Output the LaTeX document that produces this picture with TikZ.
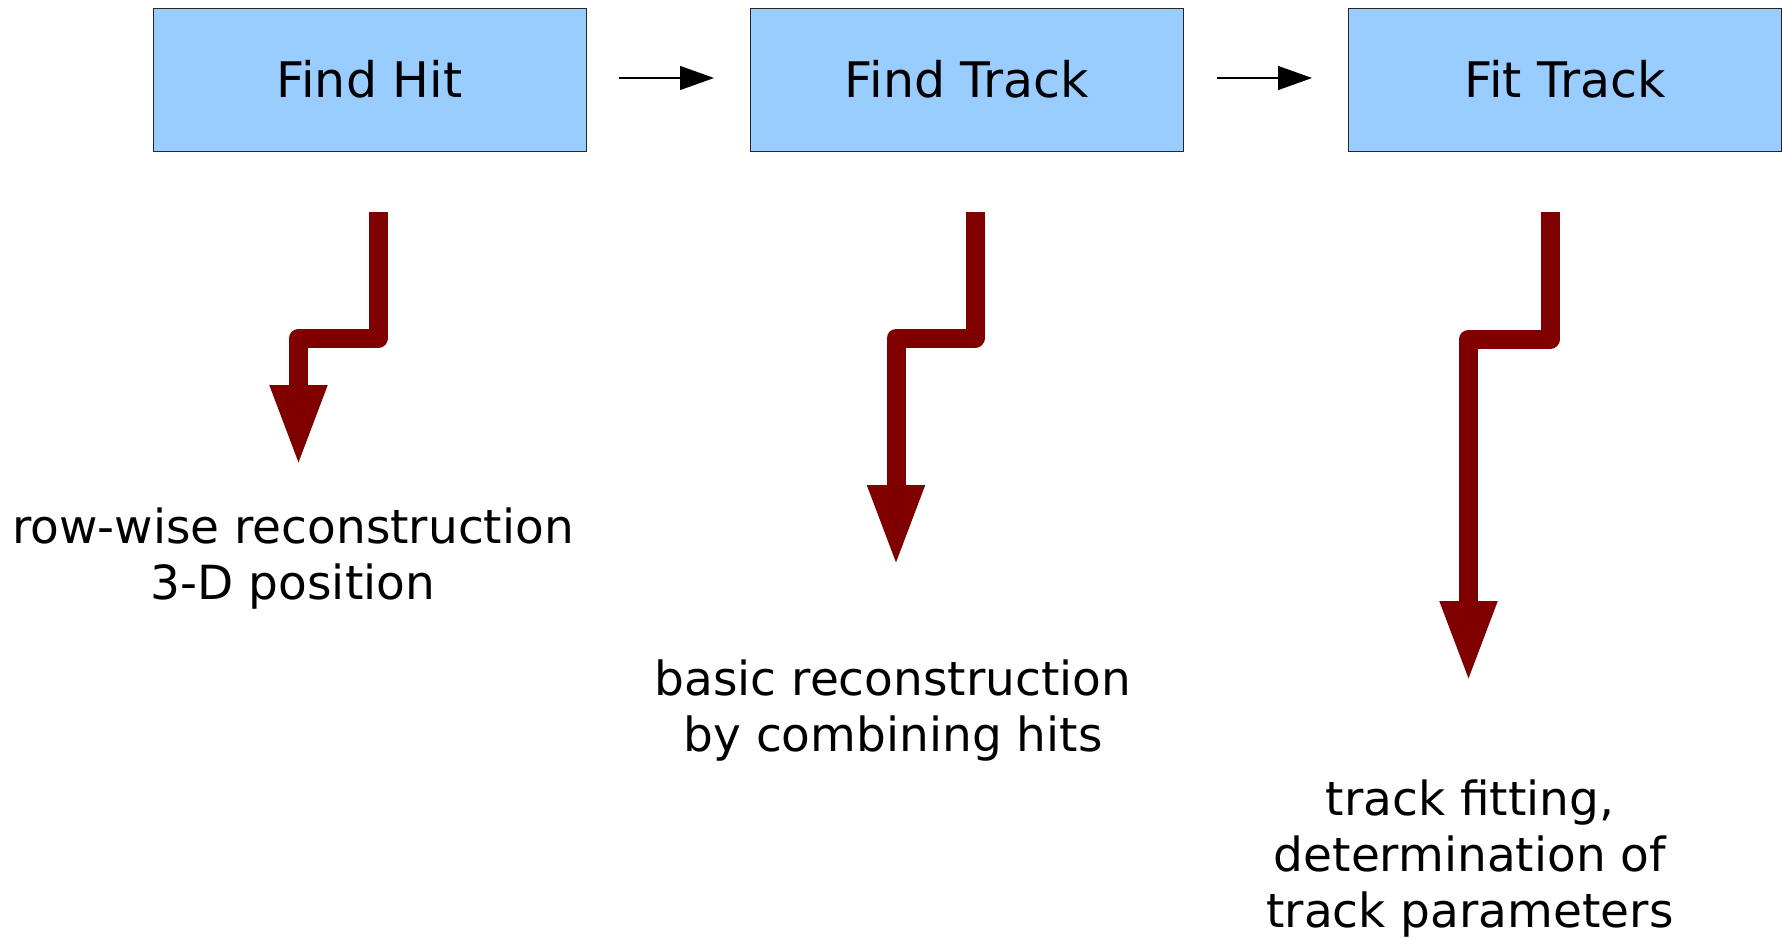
\documentclass[tikz,border=0pt]{standalone}
\usepackage{fontspec}
\setmainfont{DejaVu Sans}
\usetikzlibrary{arrows.meta}
\definecolor{boxblue}{HTML}{99CCFF}
\definecolor{darkred}{HTML}{800000}
\begin{document}
\begin{tikzpicture}[x=0.5pt,y=-0.5pt,
  stage/.style={draw=black!85, line width=0.5pt, fill=boxblue,
    minimum width=216.5pt, minimum height=71.5pt, inner sep=0pt,
    font=\fontsize{24.5}{29}\selectfont},
  lbl/.style={align=center, inner sep=0pt, font=\fontsize{23.5}{28}\selectfont},
  flow/.style={line width=0.6pt, -{Triangle[length=17pt,width=12pt]}},
  redflow/.style={draw=darkred, line width=9.5pt, line join=round,
    -{Triangle[length=41pt,width=26pt]}, color=darkred}]
\useasboundingbox (0,0) rectangle (1782,937);

\node[stage] (hit)   at (369.5,79.5) {Find Hit};
\node[stage] (track) at (967,79.5)   {Find Track};
\node[stage] (fit)   at (1565,79.5)  {Fit Track};

\coordinate (a1s) at (619,78);  \coordinate (a1e) at (714,78);
\coordinate (a2s) at (1217,78); \coordinate (a2e) at (1312,78);
\draw[flow] (a1s) -- (a1e);
\draw[flow] (a2s) -- (a2e);

\coordinate (r1a) at (378.5,212); \coordinate (r1b) at (378.5,338);
\coordinate (r1c) at (298.5,338); \coordinate (r1d) at (298.5,467);
\coordinate (r2a) at (975,212);   \coordinate (r2b) at (975,338);
\coordinate (r2c) at (896,338);   \coordinate (r2d) at (896,567);
\coordinate (r3a) at (1550.5,212); \coordinate (r3b) at (1550.5,339);
\coordinate (r3c) at (1468.5,339); \coordinate (r3d) at (1468.5,683);
\draw[redflow] (r1a) -- (r1b) -- (r1c) -- (r1d);
\draw[redflow] (r2a) -- (r2b) -- (r2c) -- (r2d);
\draw[redflow] (r3a) -- (r3b) -- (r3c) -- (r3d);

\node[lbl] (l1) at (293,559) {row-wise reconstruction\\3-D position};
\node[lbl] (l2) at (893,711) {basic reconstruction\\by combining hits};
\node[lbl] (l3) at (1470,859) {track fitting,\\determination of\\track parameters};
\end{tikzpicture}
\end{document}
